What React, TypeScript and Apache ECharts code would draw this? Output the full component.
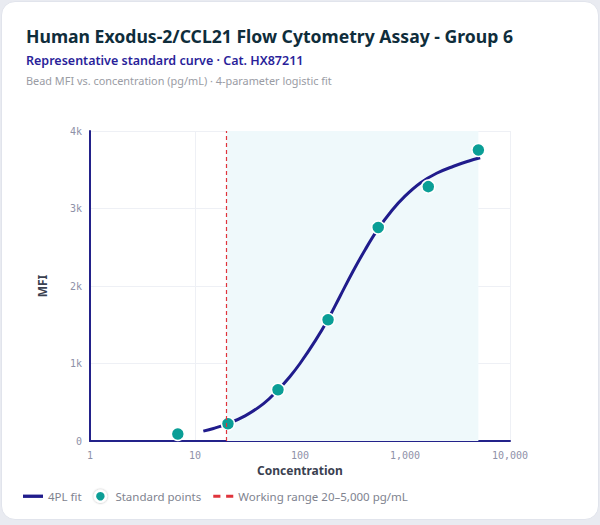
import React, { useEffect, useRef } from "react";
import * as echarts from "echarts";

// standard points (3-fold dilution series)
const stdConc = [6.86, 20.6, 61.7, 185, 556, 1667, 5000];
const stdMfi = [90, 223, 661, 1564, 2754, 3282, 3755];

// 4PL fit curve
const fitConc = [12, 15, 20, 30, 45, 61, 80, 100, 140, 184, 240, 320, 420, 550, 750, 1000, 1400, 2000, 2900, 4000, 5200];
const fitMfi = [127, 162, 218, 325, 482, 652, 830, 1000, 1295, 1564, 1865, 2190, 2475, 2730, 2975, 3160, 3330, 3455, 3545, 3610, 3655];

const workingRange = [20, 5000];
const yTicks = ["0", "1k", "2k", "3k", "4k"];

const App = () => {
  const chartRef = useRef<HTMLDivElement>(null);

  useEffect(() => {
    if (!chartRef.current) return;
    const chart = echarts.init(chartRef.current, undefined, { renderer: "svg" });

    const font = "'Noto Sans', sans-serif";
    const mono = "'DejaVu Sans Mono', monospace";

    const options = {
      animation: false,
      backgroundColor: "transparent",
      textStyle: { fontFamily: font },
      title: [
        {
          text: "Human Exodus-2/CCL21 Flow Cytometry Assay - Group 6",
          left: 21,
          top: 22,
          textStyle: { fontFamily: font, fontSize: 17.6, fontWeight: 700, color: "#0f2d3b" },
        },
        {
          text: "Representative standard curve · Cat. HX87211",
          left: 21,
          top: 49,
          textStyle: { fontFamily: font, fontSize: 12.5, fontWeight: 600, color: "#2a1f9a" },
        },
        {
          text: "Bead MFI vs. concentration (pg/mL) · 4-parameter logistic fit",
          left: 21,
          top: 70,
          textStyle: { fontFamily: font, fontSize: 10.9, fontWeight: 400, color: "#9a9ca4" },
        },
      ],
      legend: {
        left: 18,
        bottom: 17,
        itemWidth: 20,
        itemHeight: 11,
        itemGap: 12,
        textStyle: { fontFamily: font, fontSize: 11.5, color: "#80838f" },
        data: [
          {
            name: "4PL fit",
            icon: "path://M0 0h18v3H0z",
            itemStyle: { color: "#201c8c" },
          },
          {
            name: "Standard points",
            icon: "circle",
            itemStyle: {
              color: "#0a9e96",
              borderColor: "#ffffff",
              borderWidth: 2.5,
              shadowBlur: 2,
              shadowColor: "rgba(0,0,0,0.35)",
            },
          },
          {
            name: "Working range 20–5,000 pg/mL",
            icon: "path://M0 0h5v2H0z M9 0h5v2H9z",
            itemStyle: { color: "#e0343c" },
          },
        ],
      },
      grid: { left: 90, right: 90, top: 131, bottom: 84 },
      xAxis: {
        type: "log",
        logBase: 10,
        min: 1,
        max: 10000,
        name: "Concentration",
        nameLocation: "middle",
        nameGap: 23,
        nameTextStyle: { fontFamily: font, fontSize: 12, fontWeight: 700, color: "#3a4150" },
        axisLine: { show: true, lineStyle: { color: "#23228a", width: 2 } },
        axisTick: { show: false },
        axisLabel: {
          fontFamily: mono,
          fontSize: 10,
          color: "#8e91a8",
          margin: 9,
          formatter: (v: number) => Math.round(v).toLocaleString("en-US"),
        },
        splitLine: { show: true, lineStyle: { color: "#eef0f5", width: 1 } },
      },
      yAxis: {
        type: "value",
        min: 0,
        max: 4000,
        interval: 1000,
        name: "MFI",
        nameLocation: "middle",
        nameGap: 42,
        nameTextStyle: { fontFamily: font, fontSize: 12, fontWeight: 700, color: "#3a4150" },
        axisLine: { show: true, lineStyle: { color: "#23228a", width: 2 } },
        axisTick: { show: false },
        axisLabel: {
          fontFamily: mono,
          fontSize: 10,
          color: "#8e91a8",
          margin: 8,
          formatter: (v: number) => yTicks[Math.round(v / 1000)],
        },
        splitLine: { show: true, lineStyle: { color: "#eef0f5", width: 1 } },
      },
      series: [
        {
          name: "Working range 20–5,000 pg/mL",
          type: "line",
          data: [],
          symbol: "none",
          z: 1,
          lineStyle: { color: "#e0343c", width: 1.5, type: [4, 3] },
          itemStyle: { color: "#e0343c" },
          markArea: {
            silent: true,
            itemStyle: { color: "#eff9fb" },
            data: [[{ xAxis: workingRange[0] }, { xAxis: workingRange[1] }]],
          },
          markLine: {
            silent: true,
            symbol: "none",
            label: { show: false },
            lineStyle: { color: "#e0343c", width: 1.2, type: [4, 3] },
            data: [{ xAxis: workingRange[0] }],
          },
        },
        {
          name: "4PL fit",
          type: "line",
          smooth: 0.4,
          smoothConstraint: false,
          symbol: "none",
          z: 3,
          lineStyle: { color: "#201c8c", width: 3 },
          itemStyle: { color: "#201c8c" },
          data: fitConc.map((c, i) => [c, fitMfi[i]]),
        },
        {
          name: "Standard points",
          type: "scatter",
          symbolSize: 13,
          z: 4,
          itemStyle: { color: "#0a9e96", borderColor: "#ffffff", borderWidth: 1.5, opacity: 1 },
          data: stdConc.map((c, i) => [c, stdMfi[i]]),
        },
      ],
    };

    chart.setOption(options);
    return () => {
      chart.dispose();
    };
  }, []);

  return (
    <div style={{ position: "fixed", left: 0, top: 0, width: 600, height: 525, background: "#e9ebf1" }}>
      <div
        style={{
          position: "absolute",
          left: 1,
          top: 1,
          width: 596,
          height: 517,
          background: "#ffffff",
          borderRadius: 14,
          border: "1px solid #e1e4ec",
        }}
      />
      <div ref={chartRef} style={{ position: "absolute", left: 0, top: 0, width: 600, height: 525 }} />
    </div>
  );
};

export default App;
